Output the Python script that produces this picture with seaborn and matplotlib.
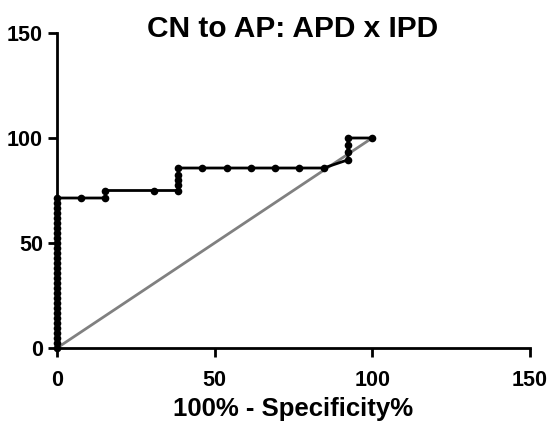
#!/usr/bin/env python3

"""ROC curve: CN to AP, APD x IPD."""

import seaborn as sns
import pandas as pd
import matplotlib.pyplot as plt

# DATA
# vertical run at 100% specificity
zero_spec_sens = [round(k * 100 / 42, 2) for k in range(31)]
fpr_rest = [7.69, 15.38, 15.38, 30.77, 38.46, 38.46, 38.46, 38.46, 38.46,
            46.15, 53.85, 61.54, 69.23, 76.92, 84.62,
            92.31, 92.31, 92.31, 92.31, 100.0]
sens_rest = [71.43, 71.43, 75.0, 75.0, 75.0, 77.4, 79.8, 82.2, 85.71,
             85.71, 85.71, 85.71, 85.71, 85.71, 85.71,
             89.6, 93.1, 96.6, 100.0, 100.0]

fpr = [0.0] * len(zero_spec_sens) + fpr_rest
sens = zero_spec_sens + sens_rest

ref_x = [0, 100]
ref_y = [0, 100]

title = "CN to AP: APD x IPD"
x_label = "100% - Specificity%"
ticks = [0, 50, 100, 150]

# THEME
sns.set_theme(style="ticks", rc={"text.color": "black", "axes.edgecolor": "black",
                                 "xtick.color": "black", "ytick.color": "black",
                                 "axes.labelcolor": "black"})
plt.rcParams['font.family'] = ['Liberation Sans', 'DejaVu Sans']
plt.rcParams['font.weight'] = 'bold'

roc = pd.DataFrame({"fpr": fpr, "sens": sens})
diag = pd.DataFrame({"fpr": ref_x, "sens": ref_y})

fig = plt.figure(figsize=(5.51, 4.24), dpi=100)
ax = fig.add_axes([0.1034, 0.1792, 0.858, 0.743])

sns.lineplot(data=diag, x="fpr", y="sens", color="#808080", linewidth=2,
             ax=ax, sort=False, estimator=None)
sns.lineplot(data=roc, x="fpr", y="sens", color="black", linewidth=2,
             marker="o", markersize=5.5, markeredgewidth=0, ax=ax,
             sort=False, estimator=None)

ax.set_xlim(0, 150)
ax.set_ylim(0, 150)
ax.set_xticks(ticks)
ax.set_yticks(ticks)
ax.tick_params(labelsize=15.5, width=2, length=6.5)
ax.tick_params(axis="x", pad=9)
ax.tick_params(axis="y", pad=3.5)
for lab in ax.get_xticklabels() + ax.get_yticklabels():
    lab.set_fontweight("bold")

for side in ["top", "right"]:
    ax.spines[side].set_visible(False)
for side in ["left", "bottom"]:
    ax.spines[side].set_linewidth(2)
for ln in ax.lines:
    ln.set_clip_on(False)

ax.set_xlabel(x_label, fontsize=18.5, fontweight="bold", labelpad=5)
ax.set_ylabel("")
fig.text(0.531, 0.9127, title, fontsize=21.5, fontweight="bold", ha="center", va="baseline")

plt.savefig("out.png", dpi=100)
